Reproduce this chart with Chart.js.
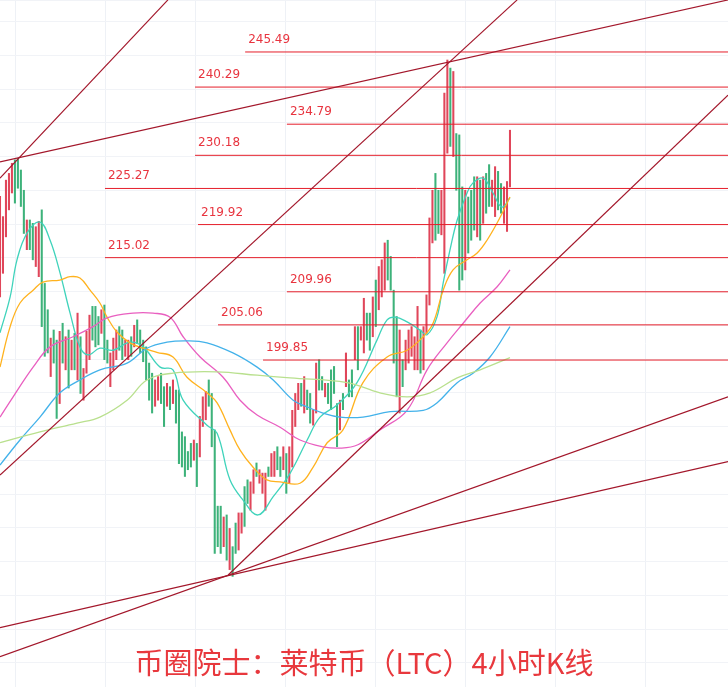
<!DOCTYPE html>
<html lang="zh">
<head>
<meta charset="UTF-8">
<title>莱特币 4小时K线</title>
<script src="https://cdn.jsdelivr.net/npm/chart.js"></script>
<style>
    body { margin: 0; background: #ffffff; overflow: hidden; }
    .wrap { position: relative; width: 728px; height: 687px; }
    .title {
        position: absolute; left: 0; right: 0; top: 640px;
        text-align: center; color: #e8383d;
        font: 29px "Noto Sans CJK SC", sans-serif;
    }
</style>
</head>
<body>
<div class="wrap">
    <canvas id="kline" width="728" height="687"></canvas>
    <div class="title">币圈院士：莱特币（LTC）4小时K线</div>
</div>
<script>
// candle highs / lows (price), 1 = up (red), 0 = down (green)
const candleHigh = [224.1,221.1,226.5,227.5,229.0,229.5,229.7,228.0,225.0,220.6,220.6,220.1,219.6,220.4,222.1,211.2,207.3,203.1,204.3,202.8,
    204.1,205.3,203.3,204.3,202.8,203.8,206.8,203.3,198.6,204.1,206.5,207.8,207.8,206.3,207.3,208.0,202.8,200.9,203.1,204.3,
    204.8,204.3,202.8,202.8,203.3,205.0,205.8,204.3,202.8,201.8,199.4,197.9,196.9,197.4,197.9,195.9,196.4,195.9,196.9,195.4,
    195.4,189.2,188.5,186.3,187.5,188.0,187.5,191.5,194.4,195.2,196.9,194.9,189.5,178.2,178.2,176.6,176.9,174.9,172.2,175.7,
    177.2,177.2,181.1,182.1,181.8,183.6,184.6,183.6,183.1,183.1,184.0,186.0,186.3,187.0,185.5,187.0,186.0,187.0,192.4,194.9,
    196.4,196.4,197.4,195.4,194.9,192.5,199.4,199.9,197.4,196.4,196.4,198.4,198.9,193.4,193.9,194.9,200.9,196.9,198.4,204.8,
    204.8,204.8,209.0,206.8,206.8,209.2,211.7,213.7,214.7,217.2,217.6,215.2,210.2,206.3,204.3,199.9,202.8,204.3,204.8,203.3,
    207.8,204.3,204.8,209.5,220.9,225.0,227.5,225.0,225.0,239.4,244.3,243.1,242.6,233.4,233.2,225.5,225.0,224.0,225.0,227.0,
    227.0,226.5,227.0,227.5,228.8,226.5,228.5,227.8,226.0,225.5,226.3,233.9];
const candleLow = [209.2,212.7,218.1,222.1,224.6,223.1,225.3,222.6,218.6,216.2,216.2,214.7,213.7,212.2,204.8,200.4,200.9,197.4,199.4,191.2,
    193.4,199.4,198.4,195.7,198.4,198.4,196.9,194.9,193.9,197.9,199.9,202.8,201.8,202.1,203.8,199.9,199.4,195.9,198.4,199.9,
    201.3,199.9,200.4,199.9,200.4,201.8,202.3,200.9,199.6,196.9,193.9,192.0,193.0,193.9,193.4,190.0,193.0,192.5,193.4,190.5,
    184.5,184.0,182.6,183.6,184.0,185.0,181.1,185.5,190.0,191.0,193.0,187.0,171.2,172.2,171.2,172.2,170.2,168.8,167.8,171.2,
    171.7,174.2,175.2,178.6,177.6,180.1,182.6,181.6,180.1,177.6,182.6,182.6,182.6,183.6,182.6,183.6,180.1,181.6,184.0,190.0,
    192.5,193.0,192.0,192.5,190.5,190.2,192.0,195.4,195.4,194.4,193.4,192.5,194.9,187.0,189.5,192.5,195.9,194.4,194.4,199.9,
    198.4,202.8,200.9,202.8,201.3,203.3,204.8,207.3,209.2,210.2,211.7,210.2,199.4,194.4,192.0,195.9,198.4,199.4,200.4,198.4,
    198.4,197.9,198.4,203.8,208.0,217.2,217.6,218.6,218.4,212.7,230.5,231.5,230.0,225.0,210.2,211.7,213.2,215.7,217.6,219.1,
    218.1,217.6,220.1,221.6,222.6,222.6,221.1,222.1,221.6,220.1,218.9,225.5];
const candleUp = [1,1,1,1,1,0,0,0,0,1,0,0,1,1,0,0,0,1,0,0, 1,0,1,0,1,0,1,0,1,1,1,0,0,0,1,0,0,1,1,1,
    0,0,1,1,0,1,0,0,0,0,0,0,1,1,0,0,1,0,1,0, 0,0,0,0,0,1,0,1,1,1,0,0,0,0,0,1,0,1,0,0,
    1,1,0,0,1,1,0,1,1,1,0,1,1,0,0,1,0,1,1,1, 1,0,1,0,0,1,1,0,0,1,0,0,0,0,1,0,1,0,0,1,
    0,1,1,0,0,1,0,1,1,1,0,0,0,0,1,0,1,1,1,1, 1,0,1,1,1,1,0,0,1,1,1,0,1,0,0,0,1,0,0,0,
    1,0,1,0,0,1,1,0,0,1,1,1];

// moving averages: [candle index, price]
const maTeal = [[0,203.9],[3.4,209.2],[5.7,214.7],[9.1,218.7],[13.4,220.3],[16.8,217.6],[20.1,212.8],[23.5,206.8],[26.8,201.8],[29.5,200.6],
    [33.5,201.6],[37.9,201.3],[43.6,202.5],[48,201.8],[53.7,198.8],[58,198.4],[61.4,193.9],[69.4,190.2],[72.8,189.0],[77.1,182.1],
    [81.5,179.1],[86.5,176.9],[91.6,179.6],[97.3,183.1],[103,188.0],[107.3,191.4],[113,193.2],[119.7,196.5],[126.4,202.8],[129.8,205.8],
    [132.5,206.2],[136.5,205.5],[140.8,204.3],[143.2,203.6],[146.5,206.2],[148.6,211.3],[150.9,216.2],[153.3,220.6],[156.6,224.6],
    [158.6,226.1],[162,226.8],[165.3,224.6],[168.3,222.5],[171,223.9]];
const maOrange = [[0,198.8],[3.4,204.8],[6.7,208.3],[11.1,210.2],[14.4,211.4],[20.1,211.7],[23.5,212.2],[26.8,212.0],[30.2,210.2],[33.5,208.3],
    [35.9,206.2],[39.2,204.0],[43.6,202.4],[48,201.6],[52.6,201.0],[58,200.3],[62.7,197.3],[69.4,195.0],[72.8,193.5],[77.1,189.5],
    [80.5,186.5],[84.8,184.0],[89.5,182.1],[93.9,181.8],[100.6,181.6],[105,184.0],[109.7,187.6],[115,189.5],[121.7,196.5],[129.8,200.3],
    [136.5,201.3],[141.9,203.3],[145.2,205.3],[148.6,210.2],[151.9,213.2],[156.6,214.7],[160,215.7],[163.3,217.6],[167.7,221.0],[171,224.0]];
const maPink = [[0,191.4],[4.4,194.4],[11.1,198.8],[16.8,201.8],[24.5,203.3],[31.2,204.8],[35.9,206.1],[44.6,206.8],[51.3,206.8],[57,206.2],
    [61.4,203.3],[67.1,200.3],[74.8,197.3],[80.5,193.9],[86.2,191.7],[93.9,189.9],[100.6,188.0],[108.3,187.0],[114,186.8],[120,187.3],
    [127.4,189.5],[136.5,192.4],[143.2,198.4],[149.9,202.4],[155.3,205.3],[161,208.3],[166.7,210.7],[171,213.2]];
const maBlue = [[0,184.3],[6.7,188.0],[13.4,191.4],[20.1,195.0],[26.8,196.9],[33.5,198.4],[42.6,199.4],[49.3,201.6],[56,202.5],[62.7,202.7],
    [69.4,202.4],[78.1,200.9],[86.2,198.8],[91.6,196.9],[98.3,193.9],[103,192.9],[108.3,192.0],[114,191.4],[121.7,191.4],[130.8,192.2],
    [141.9,192.4],[146.5,193.5],[153.3,196.5],[158.6,197.9],[164.3,200.3],[171,204.8]];
const maLime = [[0,187.6],[13.4,189.2],[25.8,190.5],[33.5,191.4],[42.6,193.9],[49.3,196.9],[58,197.9],[72.8,198.1],[86.2,197.6],[97.3,197.2],
    [116.4,196.5],[127.4,195.0],[136.5,194.4],[144.2,195.0],[153.3,197.2],[161,198.4],[171,200.2]];

// trend lines: [x1, p1, x2, p2]
const trendLines = [[0,226.8,56.3,253.2],[0,229.2,244.1,253.2],[0,182.8,173.4,253.2],
    [76.5,168.0,244.1,239.1],[0,155.9,244.1,194.4],[0,160.2,244.1,184.8]];

// horizontal levels and where each line starts
const levels = [245.49,240.29,234.79,230.18,225.27,219.92,215.02,209.96,205.06,199.85];
const levelStart = [82.2,65.4,96.2,65.4,35.2,66.4,35.2,96.2,73.1,88.2];

const X_MAX = 244.1;
const gridX = [];
for (let v = 5.03; v < X_MAX; v += 30.18) gridX.push({ value: v });

const datasets = [];
datasets.push({
    type: 'bar',
    data: candleHigh.map((h, i) => ({ x: i, y: [candleLow[i], h] })),
    backgroundColor: candleUp.map(u => u ? '#e0465a' : '#3db27a'),
    barThickness: 1.4,
    order: 3
});
const maDefs = [[maLime, '#b9e08e'], [maBlue, '#43b2ea'], [maPink, '#e95fc0'], [maOrange, '#ffb21e'], [maTeal, '#3fd3bb']];
maDefs.forEach(([arr, c]) => datasets.push({
    type: 'line', data: arr.map(p => ({ x: p[0], y: p[1] })),
    borderColor: c, borderWidth: 1.3, pointRadius: 0, tension: 0.4, order: 2
}));
levels.forEach((lv, i) => datasets.push({
    type: 'line', data: [{ x: levelStart[i], y: lv }, { x: X_MAX, y: lv }],
    borderColor: '#e51e2a', borderWidth: 1, pointRadius: 0, order: 1
}));
trendLines.forEach(t => datasets.push({
    type: 'line', data: [{ x: t[0], y: t[1] }, { x: t[2], y: t[3] }],
    borderColor: '#a3172b', borderWidth: 1.2, pointRadius: 0, order: 0
}));

const levelLabels = {
    id: 'levelLabels',
    afterDatasetsDraw(chart) {
        const { ctx, scales: { x, y } } = chart;
        ctx.save();
        ctx.fillStyle = '#e8343f';
        ctx.font = '12px "DejaVu Sans", sans-serif';
        ctx.textBaseline = 'alphabetic';
        levels.forEach((lv, i) => {
            ctx.fillText(lv.toFixed(2), x.getPixelForValue(levelStart[i]) + 3, y.getPixelForValue(lv) - 9);
        });
        ctx.restore();
    }
};

new Chart(document.getElementById('kline'), {
    data: { datasets },
    options: {
        responsive: false,
        animation: false,
        layout: { padding: 0 },
        plugins: { legend: { display: false }, tooltip: { enabled: false } },
        scales: {
            x: {
                type: 'linear', min: 0, max: X_MAX, offset: false,
                afterBuildTicks: s => { s.ticks = gridX; },
                ticks: { display: false },
                grid: { color: '#eef1f6', drawTicks: false, offset: false },
                border: { display: false }
            },
            y: {
                min: 151.41, max: 253.19,
                ticks: { display: false, stepSize: 5 },
                grid: { color: '#f1f3f7', drawTicks: false },
                border: { display: false }
            }
        }
    },
    plugins: [levelLabels]
});
</script>
</body>
</html>
